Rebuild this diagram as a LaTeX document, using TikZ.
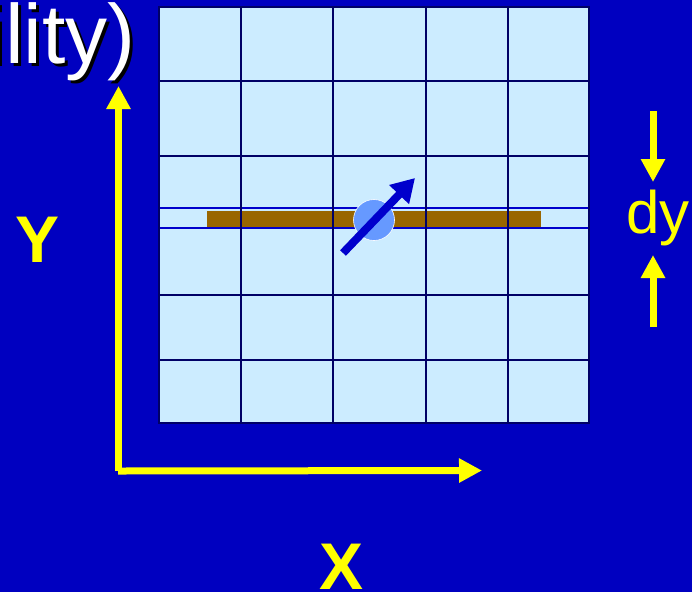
\documentclass[tikz,border=0pt]{standalone}
\usepackage{fontspec}
\setmainfont{Liberation Sans}
\usepackage{tikz}
\usetikzlibrary{arrows.meta,positioning}
\definecolor{cSky}{HTML}{0000C0}
\definecolor{cCell}{HTML}{CCECFF}
\definecolor{cNavy}{HTML}{000066}
\definecolor{cBlue}{HTML}{0000CC}
\definecolor{cRod}{HTML}{996600}
\definecolor{cDot}{HTML}{6699FF}
\definecolor{cYel}{HTML}{FFFF00}
\tikzset{
  gline/.style={draw=cNavy,line width=2.6pt},
  bline/.style={draw=cBlue,line width=2pt},
  yarr/.style={-{Triangle[length=23pt,width=23pt]},draw=cYel,fill=cYel,line width=7pt},
  axlbl/.style={text=cYel,font=\fontsize{66}{66}\selectfont\bfseries,inner sep=0pt},
  ttl/.style={anchor=base east,font=\fontsize{84}{84}\selectfont,inner sep=0pt},
}

\begin{document}
\begin{tikzpicture}[x=1pt,y=-1pt]
        \fill[cSky] (0,0) rectangle (692,592);
        \useasboundingbox (0,0) rectangle (692,592);
        \clip (0,0) rectangle (692,592);
        % title fragment
        \node[ttl,text=black] (titsh) at (139,66) {ility)};
        \node[ttl,text=white] (tit) at (136,63) {ility)};
        % grid of cells
        \fill[cCell] (159,7) rectangle (589,423);
        \fill[cRod] (207,211) rectangle (541,227);
        \foreach \gy in {208,228} \draw[bline] (159,\gy) -- (589,\gy);
        \foreach \gy in {81,156,295,360} \draw[gline] (159,\gy) -- (589,\gy);
        \foreach \gx in {241,333,426,508} \draw[gline] (\gx,7) -- (\gx,423);
        \draw[gline] (159,7) rectangle (589,423);
        % particle and its direction
        \node[circle,fill=cDot,draw=white,line width=0.6pt,minimum size=41pt,inner sep=0pt] (dot) at (374,220) {};
        \coordinate (tail) at (343,253);
        \coordinate (head) at (415,178);
        \draw[-{Triangle[length=23pt,width=26pt]},draw=cBlue,fill=cBlue,line width=8pt] (tail) -- (head);
        % axes
        \coordinate (orig) at (118.5,471);
        \coordinate (ytop) at (118.5,86);
        \coordinate (xend) at (482,470.5);
        \draw[yarr] (orig) -- (ytop);
        \draw[yarr] ([xshift=-0.5pt]orig) -- (xend);
        \node[axlbl] (ylab) at (38,240) {Y};
        \node[axlbl] (xlab) at (342,567) {X};
        % cell height
        \node[text=cYel,font=\fontsize{60}{60}\selectfont,inner sep=0pt] (dy) at (658,218) {dy};
        \coordinate (dtop) at (653,111);
        \coordinate (dbot) at (653,327);
        \draw[yarr] (dtop) -- (653,182);
        \draw[yarr] (dbot) -- (653,255);
\end{tikzpicture}
\end{document}
